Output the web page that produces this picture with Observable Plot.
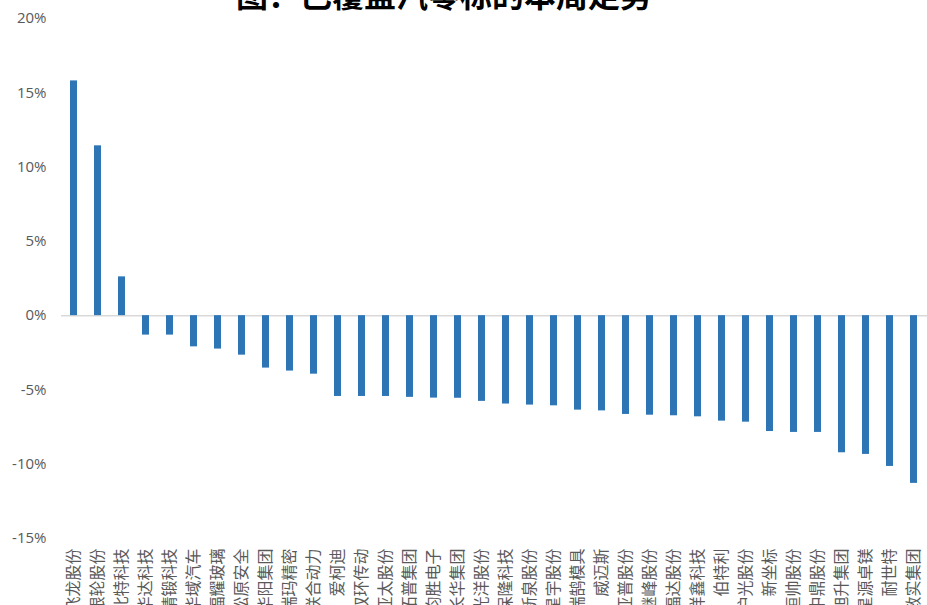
<!DOCTYPE html>
<html>
<head>
<meta charset="utf-8">
<script src="https://cdn.jsdelivr.net/npm/d3@7"></script>
<script src="https://cdn.jsdelivr.net/npm/@observablehq/plot@0.6"></script>
<style>
  html, body { margin: 0; padding: 0; background: #fff; }
  #wrap { position: relative; width: 927px; height: 605px; overflow: hidden; }
  #title { position: absolute; left: 236px; top: -23px; font: bold 32px "Noto Sans CJK SC", sans-serif; color: #000; white-space: nowrap; line-height: 1; }
  svg { font-family: "Open Sans", "Noto Sans CJK SC", sans-serif; }
</style>
</head>
<body>
<div id="wrap">
  <div id="chart"></div>
  <div id="title">图：已覆盖汽零标的本周走势</div>
</div>
<script>
const names = ["飞龙股份","银轮股份","北特科技","华达科技","精锻科技","华域汽车","福耀玻璃","松原安全","华阳集团","瑞玛精密","联合动力","爱柯迪","双环传动","亚太股份","拓普集团","均胜电子","长华集团","光洋股份","保隆科技","新泉股份","星宇股份","瑞鹄模具","威迈斯","亚普股份","继峰股份","福达股份","祥鑫科技","伯特利","沪光股份","新坐标","恒帅股份","中鼎股份","旭升集团","星源卓镁","耐世特","敏实集团"];
const changes = [15.8,11.43,2.61,-1.31,-1.31,-2.1,-2.25,-2.66,-3.53,-3.73,-3.94,-5.44,-5.44,-5.44,-5.5,-5.55,-5.56,-5.77,-5.95,-6.02,-6.07,-6.36,-6.41,-6.65,-6.7,-6.74,-6.81,-7.1,-7.17,-7.8,-7.86,-7.86,-9.23,-9.34,-10.15,-11.29];
const yTicks = [-15,-10,-5,0,5,10,15,20];

const data = names.map((n, i) => ({name: n, value: changes[i]}));

const chart = Plot.plot({
  width: 927,
  height: 605,
  marginTop: 18,
  marginBottom: 67,
  marginLeft: 61,
  marginRight: 0,
  style: {background: "#fff"},
  x: {domain: names, paddingInner: 0.69, paddingOuter: 0.345, label: null},
  y: {domain: [-15, 20], label: null},
  marks: [
    Plot.ruleY([0], {stroke: "#d9d9d9", strokeWidth: 1.5}),
    Plot.barY(data, {x: "name", y: "value", fill: "#2E75B6"}),
    Plot.axisY({ticks: yTicks, tickFormat: d => d + "%", tickSize: 0, tickPadding: 15, fontSize: 15, color: "#595959", label: null}),
    Plot.axisX({tickSize: 0, tickPadding: 10, tickRotate: -90, fontSize: 16, color: "#595959", label: null, fontFamily: "Noto Sans CJK SC"})
  ]
});
document.getElementById("chart").appendChild(chart);
</script>
</body>
</html>
